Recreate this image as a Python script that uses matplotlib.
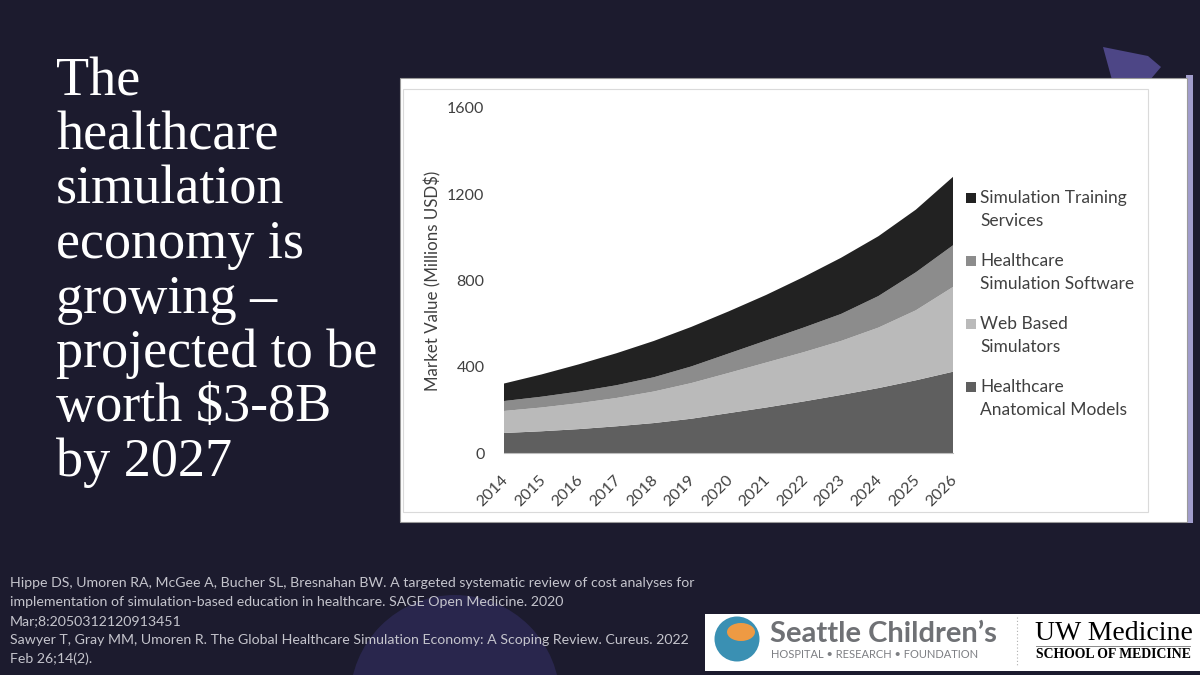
import numpy as np
import matplotlib
matplotlib.use("Agg")
import matplotlib.pyplot as plt
import matplotlib.patches as mpatches
import matplotlib.transforms as mtransforms

BG = "#1c1b2e"
TEXT_GREY = "#404040"

# data (millions USD)
years = [2014, 2015, 2016, 2017, 2018, 2019, 2020, 2021, 2022, 2023, 2024, 2025, 2026]
anatomical = [94, 102, 112, 125, 140, 160, 186, 212, 240, 270, 302, 338, 378]
web_based = [102, 110, 120, 131, 146, 165, 186, 208, 228, 250, 280, 324, 393]
software = [46, 50, 54, 59, 66, 77, 90, 102, 114, 125, 146, 176, 193]
services = [81, 103, 126, 148, 168, 183, 195, 211, 234, 260, 277, 290, 317]

series_labels = ["Healthcare\nAnatomical Models", "Web Based\nSimulators",
                 "Healthcare\nSimulation Software", "Simulation Training\nServices"]
series_colors = ["#5f5f5f", "#bababa", "#8c8c8c", "#222222"]
y_ticks = [0, 400, 800, 1200, 1600]

title_lines = ["The", "healthcare", "simulation", "economy is", "growing \u2013",
               "projected to be", "worth $3-8B", "by 2027"]
citation_lines = [
    "Hippe DS, Umoren RA, McGee A, Bucher SL, Bresnahan BW. A targeted systematic review of cost analyses for",
    "implementation of simulation-based education in healthcare. SAGE Open Medicine. 2020",
    "Mar;8:2050312120913451",
    "Sawyer T, Gray MM, Umoren R. The Global Healthcare Simulation Economy: A Scoping Review. Cureus. 2022",
    "Feb 26;14(2).",
]

W, H = 1200, 675


def fx(px):
    return px / W


def fy(py):
    return 1 - py / H


fig = plt.figure(figsize=(12, 6.75), dpi=100, facecolor=BG)

# decorative bits of the slide
fig.add_artist(mpatches.Ellipse((fx(455), fy(700)), fx(210), 210 / H, transform=fig.transFigure,
                                facecolor="#29264d", edgecolor="none", zorder=-10))
fig.add_artist(mpatches.Polygon([(fx(1103), fy(47)), (fx(1148), fy(56)), (fx(1161), fy(67)),
                                 (fx(1150), fy(80)), (fx(1112), fy(80))],
                                closed=True, transform=fig.transFigure,
                                facecolor="#4d4686", edgecolor="none", zorder=-10))
fig.add_artist(mpatches.Rectangle((fx(1186), fy(523)), fx(7), 448 / H, transform=fig.transFigure,
                                  facecolor="#a19dcc", edgecolor="none", zorder=-9))

# white picture of the chart
fig.add_artist(mpatches.Rectangle((fx(400), fy(522)), fx(787), 444 / H, transform=fig.transFigure,
                                  facecolor="white", edgecolor="#9a9a9a", linewidth=0.8, zorder=-8))
fig.add_artist(mpatches.Rectangle((fx(403), fy(512)), fx(745), 423 / H, transform=fig.transFigure,
                                  facecolor="none", edgecolor="#dadada", linewidth=0.8, zorder=-7))

# title
for i, line in enumerate(title_lines):
    fig.text(fx(56), fy(95 + i * 54.4), line, family="Liberation Serif", fontsize=39,
             color="white", va="baseline", ha="left")

# references
for i, line in enumerate(citation_lines):
    fig.text(fx(10), fy(583 + i * 19), line, family="Lato", fontsize=10.2,
             color="#c4c4cc", va="center", ha="left")

# chart
ax = fig.add_axes([fx(504), fy(453.3), fx(953.3 - 504), (453.3 - 107.7) / H])
ax.set_facecolor("none")
ax.stackplot(years, anatomical, web_based, software, services,
             colors=series_colors, linewidth=0)
ax.set_xlim(years[0], years[-1])
ax.set_ylim(0, 1600)
ax.set_yticks(y_ticks)
ax.set_xticks(years)
ax.set_xticklabels([str(y) for y in years], rotation=45, ha="right",
                   rotation_mode="anchor")
ax.tick_params(length=0, labelsize=11.5, labelcolor=TEXT_GREY)
ax.tick_params(axis="y", pad=14)
ax.tick_params(axis="x", pad=11)
shift = mtransforms.ScaledTranslation(-3 / 100, -4 / 100, fig.dpi_scale_trans)
for lab in ax.get_xticklabels():
    lab.set_family("Lato")
    lab.set_transform(lab.get_transform() + shift)
for lab in ax.get_yticklabels():
    lab.set_family("Lato")
for side in ["top", "right", "left"]:
    ax.spines[side].set_visible(False)
ax.spines["bottom"].set_color("#bdbdbd")
ax.spines["bottom"].set_linewidth(0.8)
ax.set_ylabel("Market Value (Millions USD$)", family="Lato", fontsize=12.2,
              color=TEXT_GREY)
ax.yaxis.set_label_coords((441 - 504) / (953.3 - 504), 0.5)

# legend, drawn by hand so the square sits on the first line
for i, idx in enumerate([3, 2, 1, 0]):
    yc = 197.7 + i * 63
    fig.add_artist(mpatches.Rectangle((fx(965.5), fy(yc + 5)), fx(10), 10 / H,
                                      transform=fig.transFigure,
                                      facecolor=series_colors[idx], edgecolor="none"))
    first, second = series_labels[idx].split("\n")
    fig.text(fx(980), fy(yc), first, family="Lato", fontsize=12.5, color=TEXT_GREY,
             va="center", ha="left")
    fig.text(fx(980), fy(yc + 23), second, family="Lato", fontsize=12.5, color=TEXT_GREY,
             va="center", ha="left")

# logo strip
fig.add_artist(mpatches.Rectangle((fx(705), fy(671)), fx(500), 57 / H, transform=fig.transFigure,
                                  facecolor="white", edgecolor="none"))
fig.add_artist(mpatches.Ellipse((fx(737), fy(639)), fx(45), 45 / H, transform=fig.transFigure,
                                facecolor="#3a90b3", edgecolor="none"))
fig.add_artist(mpatches.Ellipse((fx(741), fy(632)), fx(28), 18 / H, transform=fig.transFigure,
                                facecolor="#ee9a43", edgecolor="none"))
fig.text(fx(770), fy(634), "Seattle Children\u2019s", family="Lato", fontsize=21,
         fontweight="bold", color="#6f7175", va="center", ha="left")
fig.text(fx(771), fy(655), "HOSPITAL \u2022 RESEARCH \u2022 FOUNDATION", family="Lato",
         fontsize=8, color="#7d7f83", va="center", ha="left")
fig.add_artist(plt.Line2D([fx(1017), fx(1017)], [fy(617), fy(665)], transform=fig.transFigure,
                          color="#b0b0b0", linewidth=0.8, linestyle=(0, (1, 2))))
fig.text(fx(1035), fy(634), "UW Medicine", family="Liberation Serif", fontsize=20,
         color="black", va="center", ha="left")
fig.add_artist(plt.Line2D([fx(1036), fx(1190)], [fy(646), fy(646)], transform=fig.transFigure,
                          color="#777777", linewidth=0.6))
fig.text(fx(1036), fy(654), "SCHOOL OF MEDICINE", family="Liberation Serif", fontsize=9.9,
         fontweight="bold", color="black", va="center", ha="left")

fig.savefig("out.png", dpi=100, facecolor=fig.get_facecolor())
